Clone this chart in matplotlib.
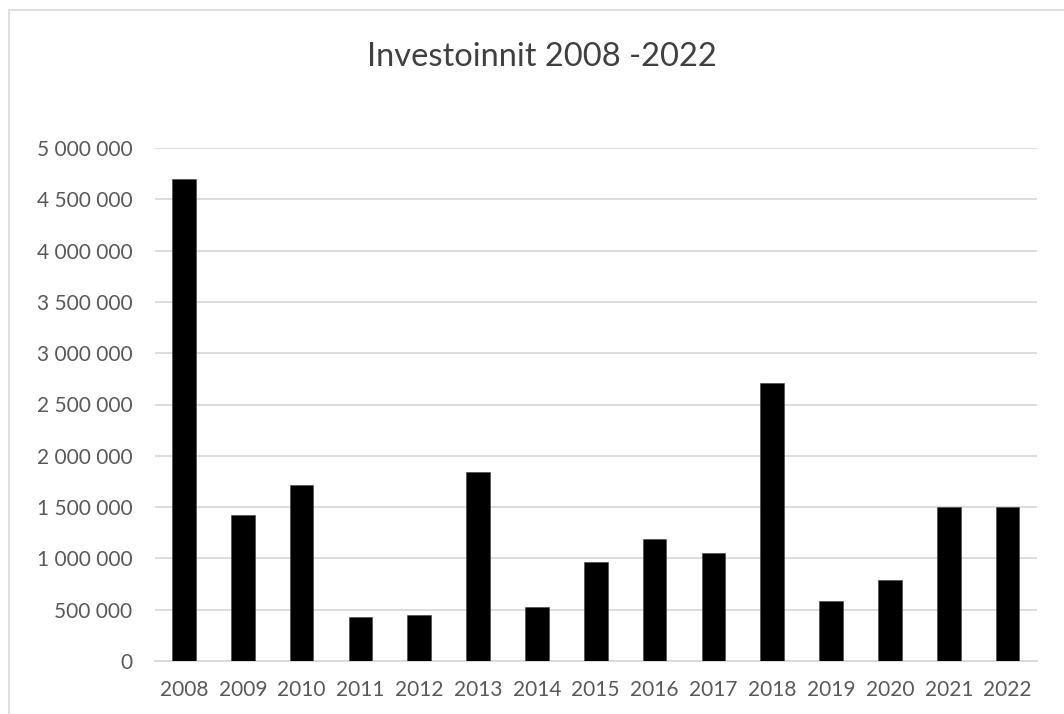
import matplotlib
matplotlib.use("Agg")
import matplotlib.pyplot as plt
from matplotlib.ticker import FuncFormatter, MultipleLocator
from matplotlib.patches import Rectangle

years = ["2008", "2009", "2010", "2011", "2012", "2013", "2014", "2015",
         "2016", "2017", "2018", "2019", "2020", "2021", "2022"]
investments = [4700000, 1425000, 1715000, 428000, 450000, 1843000, 526000,
               966000, 1192000, 1055000, 2712000, 588000, 790000, 1500000, 1500000]
title_text = "Investoinnit 2008 -2022"

plt.rcParams['font.family'] = ['Lato', 'DejaVu Sans']
text_color = "#595959"
grid_color = "#d9d9d9"

W, H = 1064, 714
fig = plt.figure(figsize=(W / 100, H / 100), dpi=100)
fig.patch.set_facecolor("white")

# chart border
fig.add_artist(Rectangle((9 / W, -0.1), 1.2, (H - 10) / H + 0.1,
                         transform=fig.transFigure, fill=False,
                         edgecolor=grid_color, linewidth=1.2))

left, right, top, bottom = 154.5, 1037, 148, 661
ax = fig.add_axes([left / W, (H - bottom) / H, (right - left) / W, (bottom - top) / H])

x = list(range(len(years)))
ax.bar(x, investments, width=0.4, color="black", edgecolor="#404040", linewidth=0.4, zorder=3)

ax.set_xlim(-0.5, len(years) - 0.5)
ax.set_ylim(0, 5000000)
ax.yaxis.set_major_locator(MultipleLocator(500000))
ax.yaxis.set_major_formatter(FuncFormatter(lambda v, p: f"{int(v):,}".replace(",", " ")))
ax.set_xticks(x)
ax.set_xticklabels(years)

ax.grid(axis="y", color=grid_color, linewidth=1.3, zorder=0)
ax.set_axisbelow(True)
for s in ["top", "right", "left"]:
    ax.spines[s].set_visible(False)
ax.spines["bottom"].set_color(grid_color)
ax.spines["bottom"].set_linewidth(1.3)
ax.tick_params(axis="both", length=0, colors=text_color, labelsize=15)
ax.tick_params(axis="y", pad=16)
ax.tick_params(axis="x", pad=14)

fig.text(542 / W, 1 - 57 / H, title_text, ha="center", va="center",
         fontsize=23.5, color="#404040")

fig.savefig("out.png", dpi=100, facecolor="white")
